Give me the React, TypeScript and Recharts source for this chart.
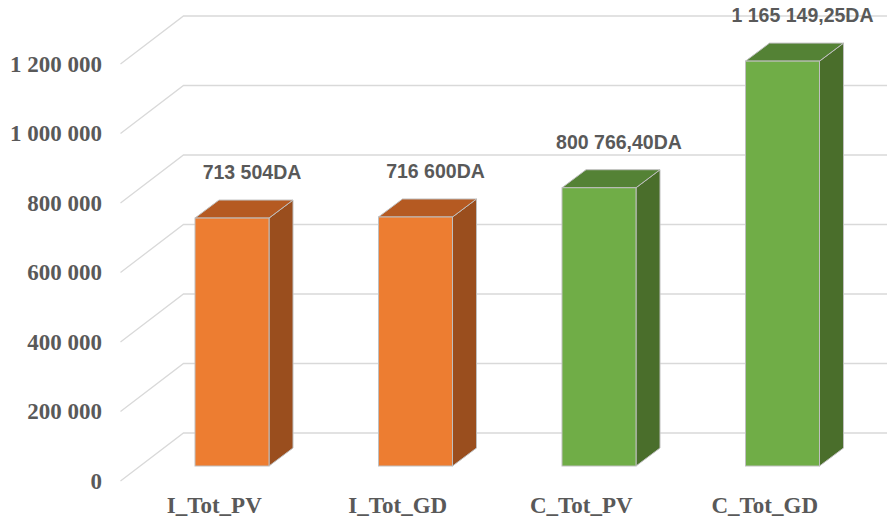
import React from "react";
import { BarChart, Bar, XAxis, YAxis, CartesianGrid, LabelList } from "recharts";

const categories = ["I_Tot_PV", "I_Tot_GD", "C_Tot_PV", "C_Tot_GD"];
const totals = [713504, 716600, 800766.4, 1165149.25];
const yTicks = [0, 200000, 400000, 600000, 800000, 1000000, 1200000];

// front / side / top shades for each column
const faceColors = ["#ED7D31", "#ED7D31", "#70AD47", "#70AD47"];
const sideColors = ["#9A4E1E", "#9A4E1E", "#4A6E2B", "#4A6E2B"];
const topColors = ["#B55A22", "#B55A22", "#548235", "#548235"];

const data = categories.map((name, i) => ({ name, value: totals[i] }));

// 3D depth of a column and of the whole floor
const DX = 24;
const DY = 18;
const FRONT_DX = -19.5;
const FRONT_DY = 15;
const BACK_DX = 43.5;
const BACK_DY = -33;

const W = 887;
const H = 519;

const withSpaces = (s: string) => s.replace(/\B(?=(\d{3})+(?!\d))/g, " ");

const fmtTick = (v: number) => withSpaces(String(v));

const fmtAmount = (v: number) => {
  if (Number.isInteger(v)) return withSpaces(String(v)) + "DA";
  const [ip, dp] = v.toFixed(2).split(".");
  return withSpaces(ip) + "," + dp + "DA";
};

const Column = (props: any) => {
  const { x, y, width, height, index } = props;
  const stroke = "#BFBFBF";
  const r = x + width;
  const b = y + height;
  return (
    <g>
      <polygon
        points={`${r},${y} ${r + DX},${y - DY} ${r + DX},${b - DY} ${r},${b}`}
        fill={sideColors[index]}
        stroke={stroke}
        strokeWidth={1}
      />
      <polygon
        points={`${x},${y} ${x + DX},${y - DY} ${r + DX},${y - DY} ${r},${y}`}
        fill={topColors[index]}
        stroke={stroke}
        strokeWidth={1}
      />
      <rect x={x} y={y} width={width} height={height} fill={faceColors[index]} stroke={stroke} strokeWidth={1} />
    </g>
  );
};

const GridLine = (props: any) => {
  const { x1, y1 } = props;
  const fx = x1 + FRONT_DX;
  const fy = y1 + FRONT_DY;
  const bx = x1 + BACK_DX;
  const by = y1 + BACK_DY;
  return (
    <polyline
      key={`g-${y1}`}
      points={`${fx},${fy} ${bx},${by} ${W + 20},${by}`}
      fill="none"
      stroke="#D9D9D9"
      strokeWidth={1.3}
    />
  );
};

const YTick = (props: any) => {
  const { y, payload } = props;
  return (
    <text
      x={102}
      y={y + FRONT_DY}
      textAnchor="end"
      dominantBaseline="central"
      fontFamily="'Liberation Serif', 'Times New Roman', serif"
      fontWeight="bold"
      fontSize={23}
      fill="#595959"
    >
      {fmtTick(payload.value)}
    </text>
  );
};

const XTick = (props: any) => {
  const { x, payload } = props;
  return (
    <text
      x={x + FRONT_DX + 2}
      y={513}
      textAnchor="middle"
      fontFamily="'Liberation Serif', 'Times New Roman', serif"
      fontWeight="bold"
      fontSize={23}
      fill="#595959"
    >
      {payload.value}
    </text>
  );
};

const ValueLabel = (props: any) => {
  const { x, y, width, value } = props;
  return (
    <text
      x={x + width / 2 + 20}
      y={y - 46}
      textAnchor="middle"
      dominantBaseline="central"
      fontFamily="'Liberation Sans', Arial, sans-serif"
      fontWeight="bold"
      fontSize={19.5}
      fill="#595959"
    >
      {fmtAmount(value)}
    </text>
  );
};

export default function App() {
  return (
    <div style={{ position: "absolute", left: 0, top: 0, width: W, height: H, background: "#fff" }}>
      <BarChart
        width={W}
        height={H}
        data={data}
        margin={{ top: 49, right: 13, bottom: 0, left: 0 }}
        barSize={74}
      >
        <CartesianGrid vertical={false} horizontal={GridLine} />
        <XAxis dataKey="name" axisLine={false} tickLine={false} height={53} tick={XTick} interval={0} />
        <YAxis
          domain={[0, 1200000]}
          ticks={yTicks}
          axisLine={false}
          tickLine={false}
          width={140}
          tick={YTick}
          interval={0}
        />
        <Bar dataKey="value" shape={Column} isAnimationActive={false}>
          <LabelList dataKey="value" content={ValueLabel} />
        </Bar>
      </BarChart>
    </div>
  );
}
